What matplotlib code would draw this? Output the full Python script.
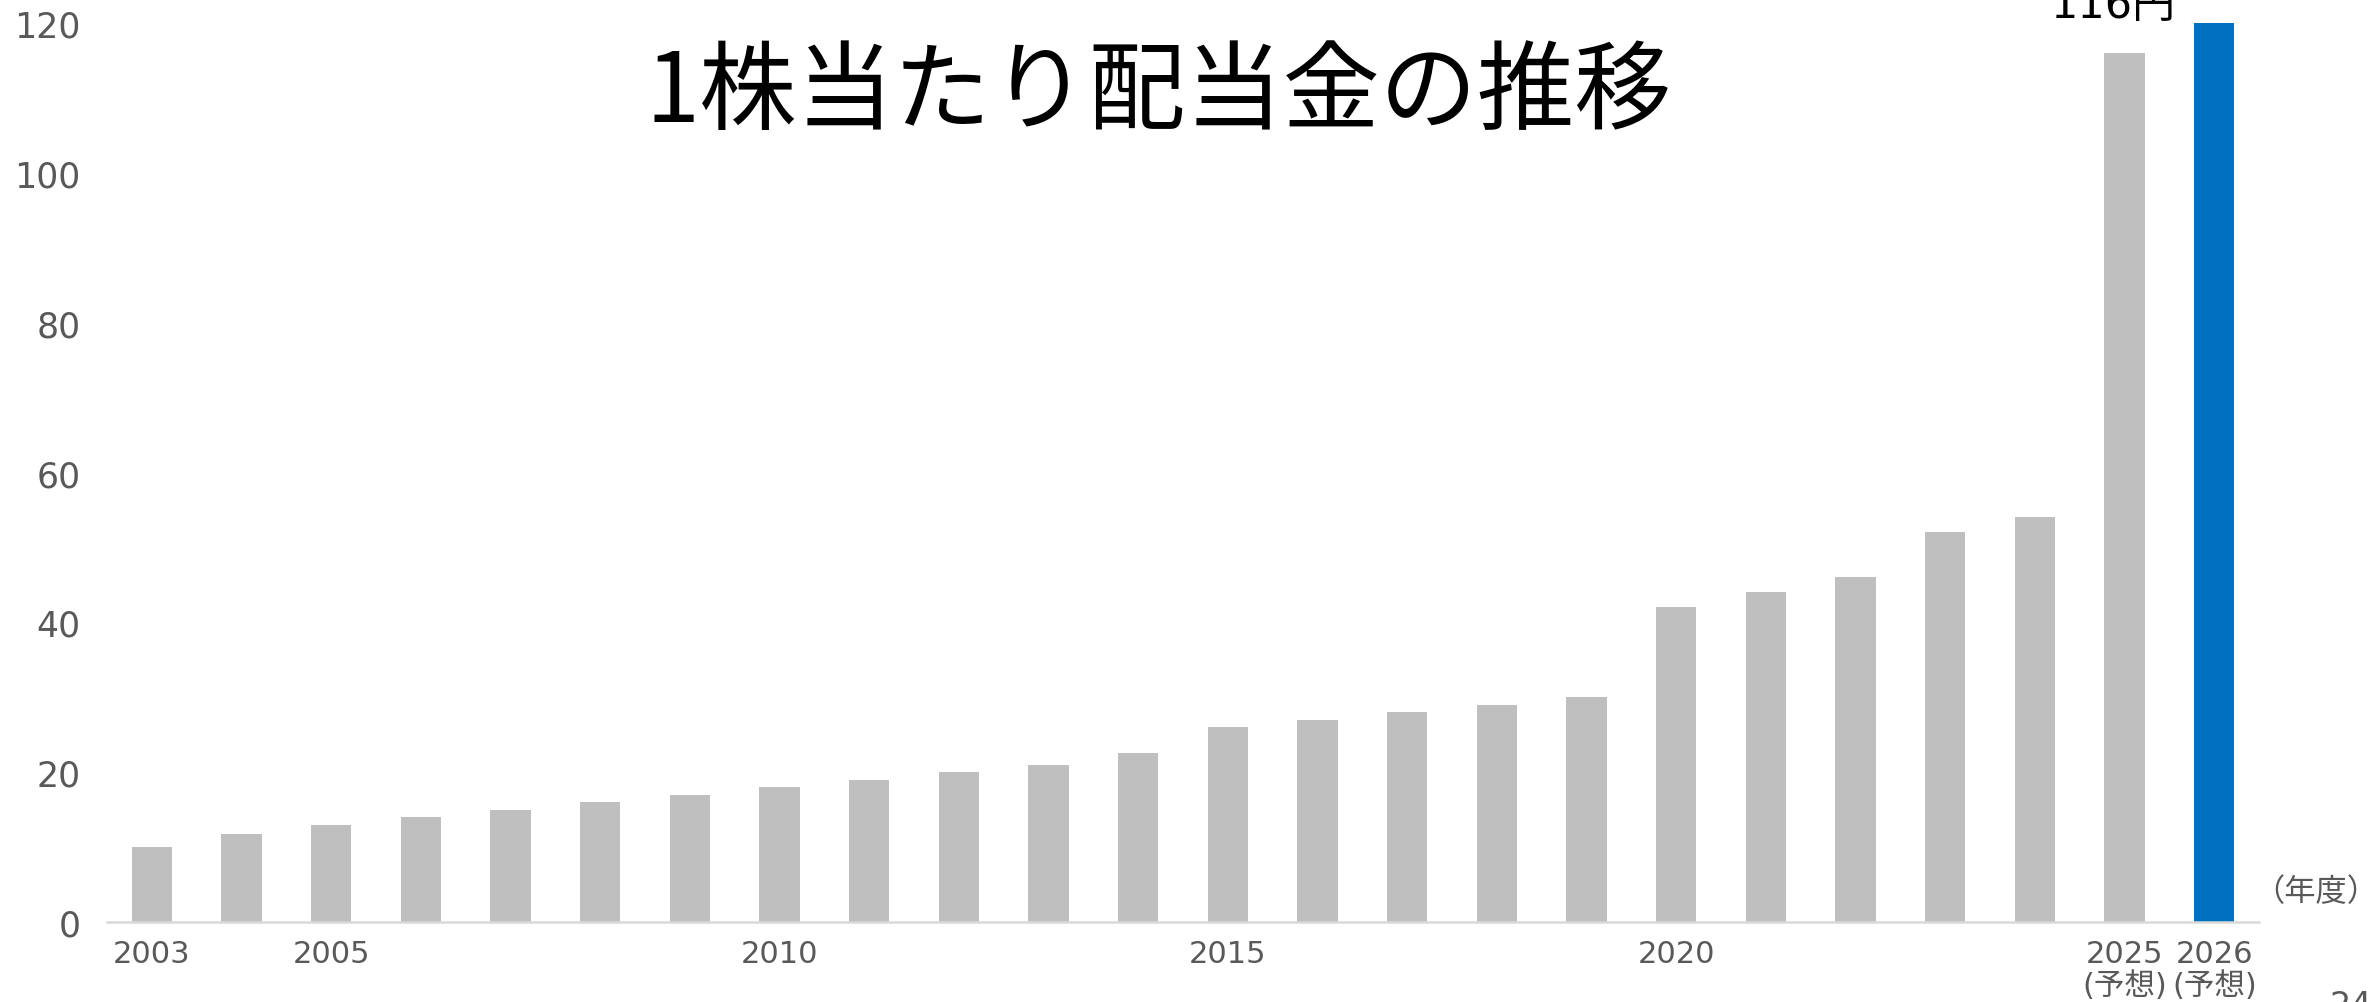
import numpy as np
import matplotlib
matplotlib.use("Agg")
import matplotlib.pyplot as plt

# latin digits from DejaVu (wide, like the original), kana/kanji from Noto CJK
plt.rcParams['font.family'] = ['DejaVu Sans', 'Noto Sans CJK JP']

# dividend per share by fiscal year (yen)
years = ['2003', '2004', '2005', '2006', '2007', '2008', '2009', '2010', '2011', '2012',
         '2013', '2014', '2015', '2016', '2017', '2018', '2019', '2020', '2021', '2022',
         '2023', '2024', '2025', '2026']
dividends = [10, 11.7, 13, 14, 15, 16, 17, 18, 19, 20,
             21, 22.5, 26, 27, 28, 29, 30, 42, 44, 46,
             52, 54, 116, 124]
shown_labels = {'2003': '2003', '2005': '2005', '2010': '2010', '2015': '2015',
                '2020': '2020', '2025': '2025\n(予想)', '2026': '2026\n(予想)'}
yticks = [0, 20, 40, 60, 80, 100, 120]

title = '1株当たり配当金の推移'
gray = '#bfbfbf'
blue = '#0070c0'
txt = '#595959'

fig = plt.figure(figsize=(23.79, 10.03), dpi=100)
ax = fig.add_axes([0.045, 0.0798, 0.9046, 0.8962])

x = np.arange(len(years))
colors = [gray] * (len(years) - 1) + [blue]
ax.bar(x, dividends, width=0.45, color=colors)

ax.set_xlim(-0.5, len(years) - 0.5)
ax.set_ylim(0, 120)
ax.set_yticks(yticks)
ax.set_xticks(x)
ax.set_xticklabels([shown_labels.get(y, '') for y in years], linespacing=1.12)

for s in ['top', 'right', 'left']:
    ax.spines[s].set_visible(False)
ax.spines['bottom'].set_color('#d9d9d9')
ax.spines['bottom'].set_linewidth(1.8)

ax.tick_params(axis='y', length=0, pad=19, labelsize=25, labelcolor=txt)
ax.tick_params(axis='x', length=0, pad=12, labelsize=22, labelcolor=txt)

fig.text(0.487, 0.906, title, ha='center', va='center', fontsize=70,
         family=['Noto Sans CJK JP'], color='black')
fig.text(0.888, 0.982, f'{dividends[22]:.0f}円', ha='center', va='baseline',
         fontsize=31, color='black')
fig.text(0.9995, 0.111, '（年度）', ha='right', va='center', fontsize=22.5,
         family=['Noto Sans CJK JP'], color=txt)
fig.text(0.979, 0.013, '24', ha='left', va='top', fontsize=24, color=txt)

fig.savefig('out.png', dpi=100)
